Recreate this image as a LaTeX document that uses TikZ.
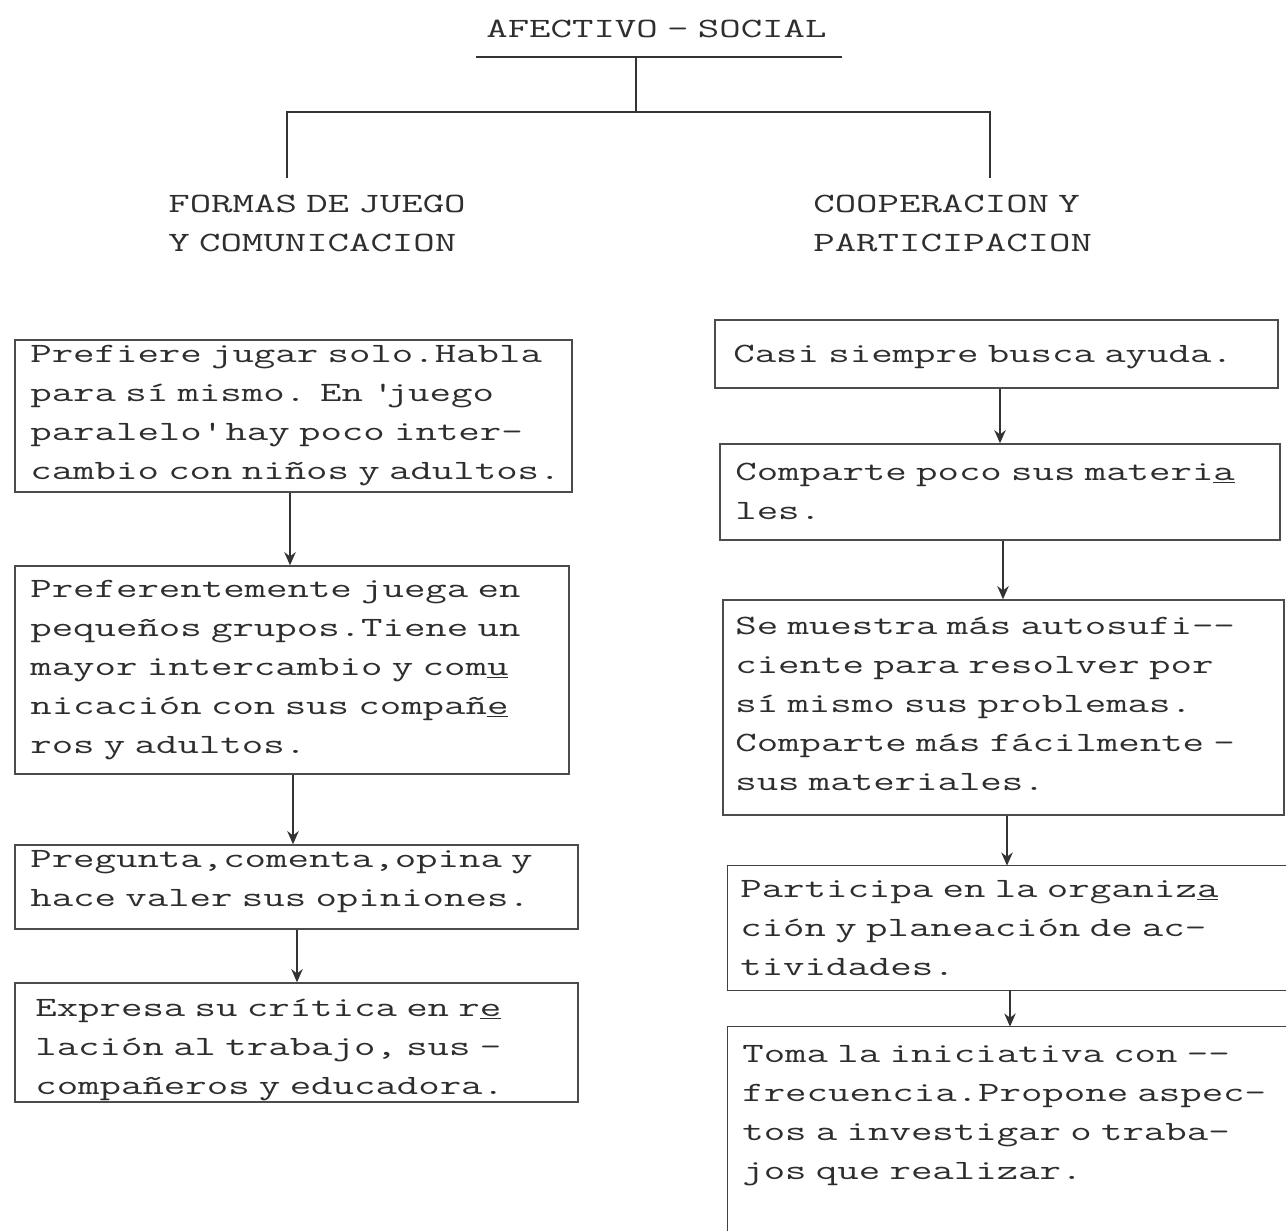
\documentclass[tikz,border=0pt]{standalone}
\usepackage{fontspec}
\newfontfamily\tw[FakeStretch=1.49]{Latin Modern Mono}
\usetikzlibrary{arrows.meta,fit}
\newcommand{\uc}[1]{\underline{#1}}
\newcommand{\twfont}{\tw\fontsize{15.9}{22.2}\selectfont}
\begin{document}
\begin{tikzpicture}[x=0.02cm,y=-0.02cm,
  txt/.style={font=\twfont, text=black!82, inner sep=0pt, anchor=base west, align=left, text width=14cm},
  frame/.style={draw=black!70, line width=0.8pt, inner sep=0pt},
  openframe/.style={inner sep=0pt},
  edge/.style={draw=black!75, line width=0.8pt},
  lnk/.style={draw=black!80, line width=1.1pt},
  arr/.style={draw=black!80, line width=1.1pt, -{Stealth[length=7.5pt,width=6.5pt]}}]
\fill[white] (0,0) rectangle (1286,1231);
\useasboundingbox (0,0) rectangle (1286,1231);

% title and headings
\node[txt] (title) at (486,37) {AFECTIVO - SOCIAL};
\node[txt] (hl) at (168,212) {FORMAS DE JUEGO\\Y COMUNICACION};
\node[txt] (hr) at (813,212) {COOPERACION Y\\PARTICIPACION};

% tree lines
\coordinate (u1) at (476,57);
\coordinate (u2) at (842,57);
\coordinate (stem) at (636,57);
\coordinate (jl) at (287,112);
\coordinate (jr) at (990,112);
\coordinate (dl) at (287,178);
\coordinate (dr) at (990,178);
\draw[lnk] (u1) -- (u2);
\draw[lnk] (stem) -- (stem |- jl);
\draw[lnk] (dl) -- (jl) -- (jr) -- (dr);

% left column boxes
\node[frame, fit={(15,340) (572,492)}] (b1) {};
\node[frame, fit={(15,566) (569,774)}] (b2) {};
\node[frame, fit={(15,845) (578,929)}] (b3) {};
\node[frame, fit={(15,983) (578,1102)}] (b4) {};

\node[txt] (b1t) at (30,362) {Prefiere jugar solo.Habla\\para sí mismo. En \textquotesingle juego\\paralelo\textquotesingle{} hay poco inter-\\cambio con niños y adultos.};
\node[txt] (b2t) at (30,597) {Preferentemente juega en\\pequeños grupos.Tiene un\\mayor intercambio y com\uc{u}\\nicación con sus compañ\uc{e}\\ros y adultos.};
\node[txt] (b3t) at (30,867) {Pregunta,comenta,opina y\\hace valer sus opiniones.};
\node[txt] (b4t) at (35,1016) {Expresa su crítica en r\uc{e}\\lación al trabajo, sus -\\compañeros y educadora.};

% right column boxes
\node[frame, fit={(715,320) (1278,388)}] (r1) {};
\node[frame, fit={(720,444) (1280,540)}] (r2) {};
\node[frame, fit={(723,600) (1284,815)}] (r3) {};
\node[openframe, fit={(728,866) (1290,990)}] (r4) {};
\node[openframe, fit={(728,1027) (1290,1240)}] (r5) {};
\draw[edge] (r4.north east) -- (r4.north west) -- (r4.south west) -- (r4.south east);
\draw[edge] (r5.north east) -- (r5.north west) -- (r5.south west);

\node[txt] (r1t) at (733,362) {Casi siempre busca ayuda.};
\node[txt] (r2t) at (735,480) {Comparte poco sus materi\uc{a}\\les.};
\node[txt] (r3t) at (735,634) {Se muestra más autosufi-{}-\\ciente para resolver por\\sí mismo sus problemas.\\Comparte más fácilmente -\\sus materiales.};
\node[txt] (r4t) at (740,897) {Participa en la organiz\uc{a}\\ción y planeación de ac-\\tividades.};
\node[txt] (r5t) at (742,1062) {Toma la iniciativa con -{}-\\frecuencia.Propone aspec-\\tos a investigar o traba-\\jos que realizar.};

% arrows
\coordinate (xa) at (290,0);
\coordinate (xb) at (293,0);
\coordinate (xc) at (297,0);
\coordinate (xd) at (1000,0);
\coordinate (xe) at (1003,0);
\coordinate (xf) at (1007,0);
\coordinate (xg) at (1010,0);
\draw[arr] (b1.south -| xa) -- (b2.north -| xa);
\draw[arr] (b2.south -| xb) -- (b3.north -| xb);
\draw[arr] (b3.south -| xc) -- (b4.north -| xc);
\draw[arr] (r1.south -| xd) -- (r2.north -| xd);
\draw[arr] (r2.south -| xe) -- (r3.north -| xe);
\draw[arr] (r3.south -| xf) -- (r4.north -| xf);
\draw[arr] (r4.south -| xg) -- (r5.north -| xg);
\end{tikzpicture}
\end{document}
